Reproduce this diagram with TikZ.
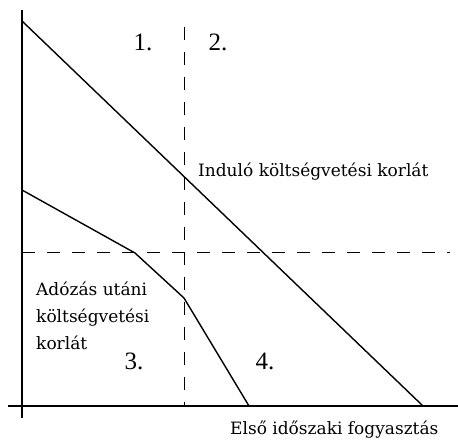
\documentclass[tikz,border=0pt]{standalone}
\usepackage{fontspec}
\setmainfont{DejaVu Serif}
\newfontfamily\numfont{Liberation Serif}
\usetikzlibrary{positioning}
\tikzset{
  axis/.style={line width=1.1pt},
  budget/.style={line width=1.4pt},
  guide/.style={line width=1pt, dash pattern=on 13pt off 12pt},
  lbl/.style={font=\fontsize{17}{27}\selectfont, inner sep=0pt, align=left},
  zone/.style={font=\numfont\fontsize{25}{25}\selectfont, inner sep=0pt},
}

\begin{document}
\begin{tikzpicture}[x=1pt,y=-1pt]
    \useasboundingbox (0,0) rectangle (458,443);
    % axes
    \coordinate (ytop) at (22,10);
    \coordinate (ybot) at (22,418);
    \coordinate (xl) at (8,406);
    \coordinate (xr) at (458,406);
    \draw[axis] (ytop) -- (ybot);
    \draw[axis] (xl) -- (xr);
    % guides
    \coordinate (vtop) at (184,27);
    \coordinate (vbot) at (184,406);
    \coordinate (hl) at (22,253);
    \coordinate (hr) at (450,253);
    \draw[guide] (vtop) -- (vbot);
    \draw[guide] (hl) -- (hr);
    % budget lines
    \coordinate (b0) at (22,21);
    \coordinate (b1) at (423,406);
    \draw[budget] (b0) -- (b1);
    \coordinate (t0) at (22,190);
    \coordinate (t1) at (135,253);
    \coordinate (t2) at (184,298);
    \coordinate (t3) at (249,406);
    \draw[budget] (t0) -- (t1) -- (t2) -- (t3);
    % labels
    \node[zone] (z1) at (143,42) {1.};
    \node[zone] (z2) at (218,42) {2.};
    \node[zone] (z3) at (134,361) {3.};
    \node[zone] (z4) at (265,361) {4.};
    \node[lbl, anchor=west] (ind) at (198,172) {Induló költségvetési korlát};
    \node[lbl, anchor=north west] (ado) at (36,282) {Adózás utáni\\költségvetési\\korlát};
    \node[lbl, anchor=west] (fog) at (230,430) {Első időszaki fogyasztás};
\end{tikzpicture}
\end{document}
